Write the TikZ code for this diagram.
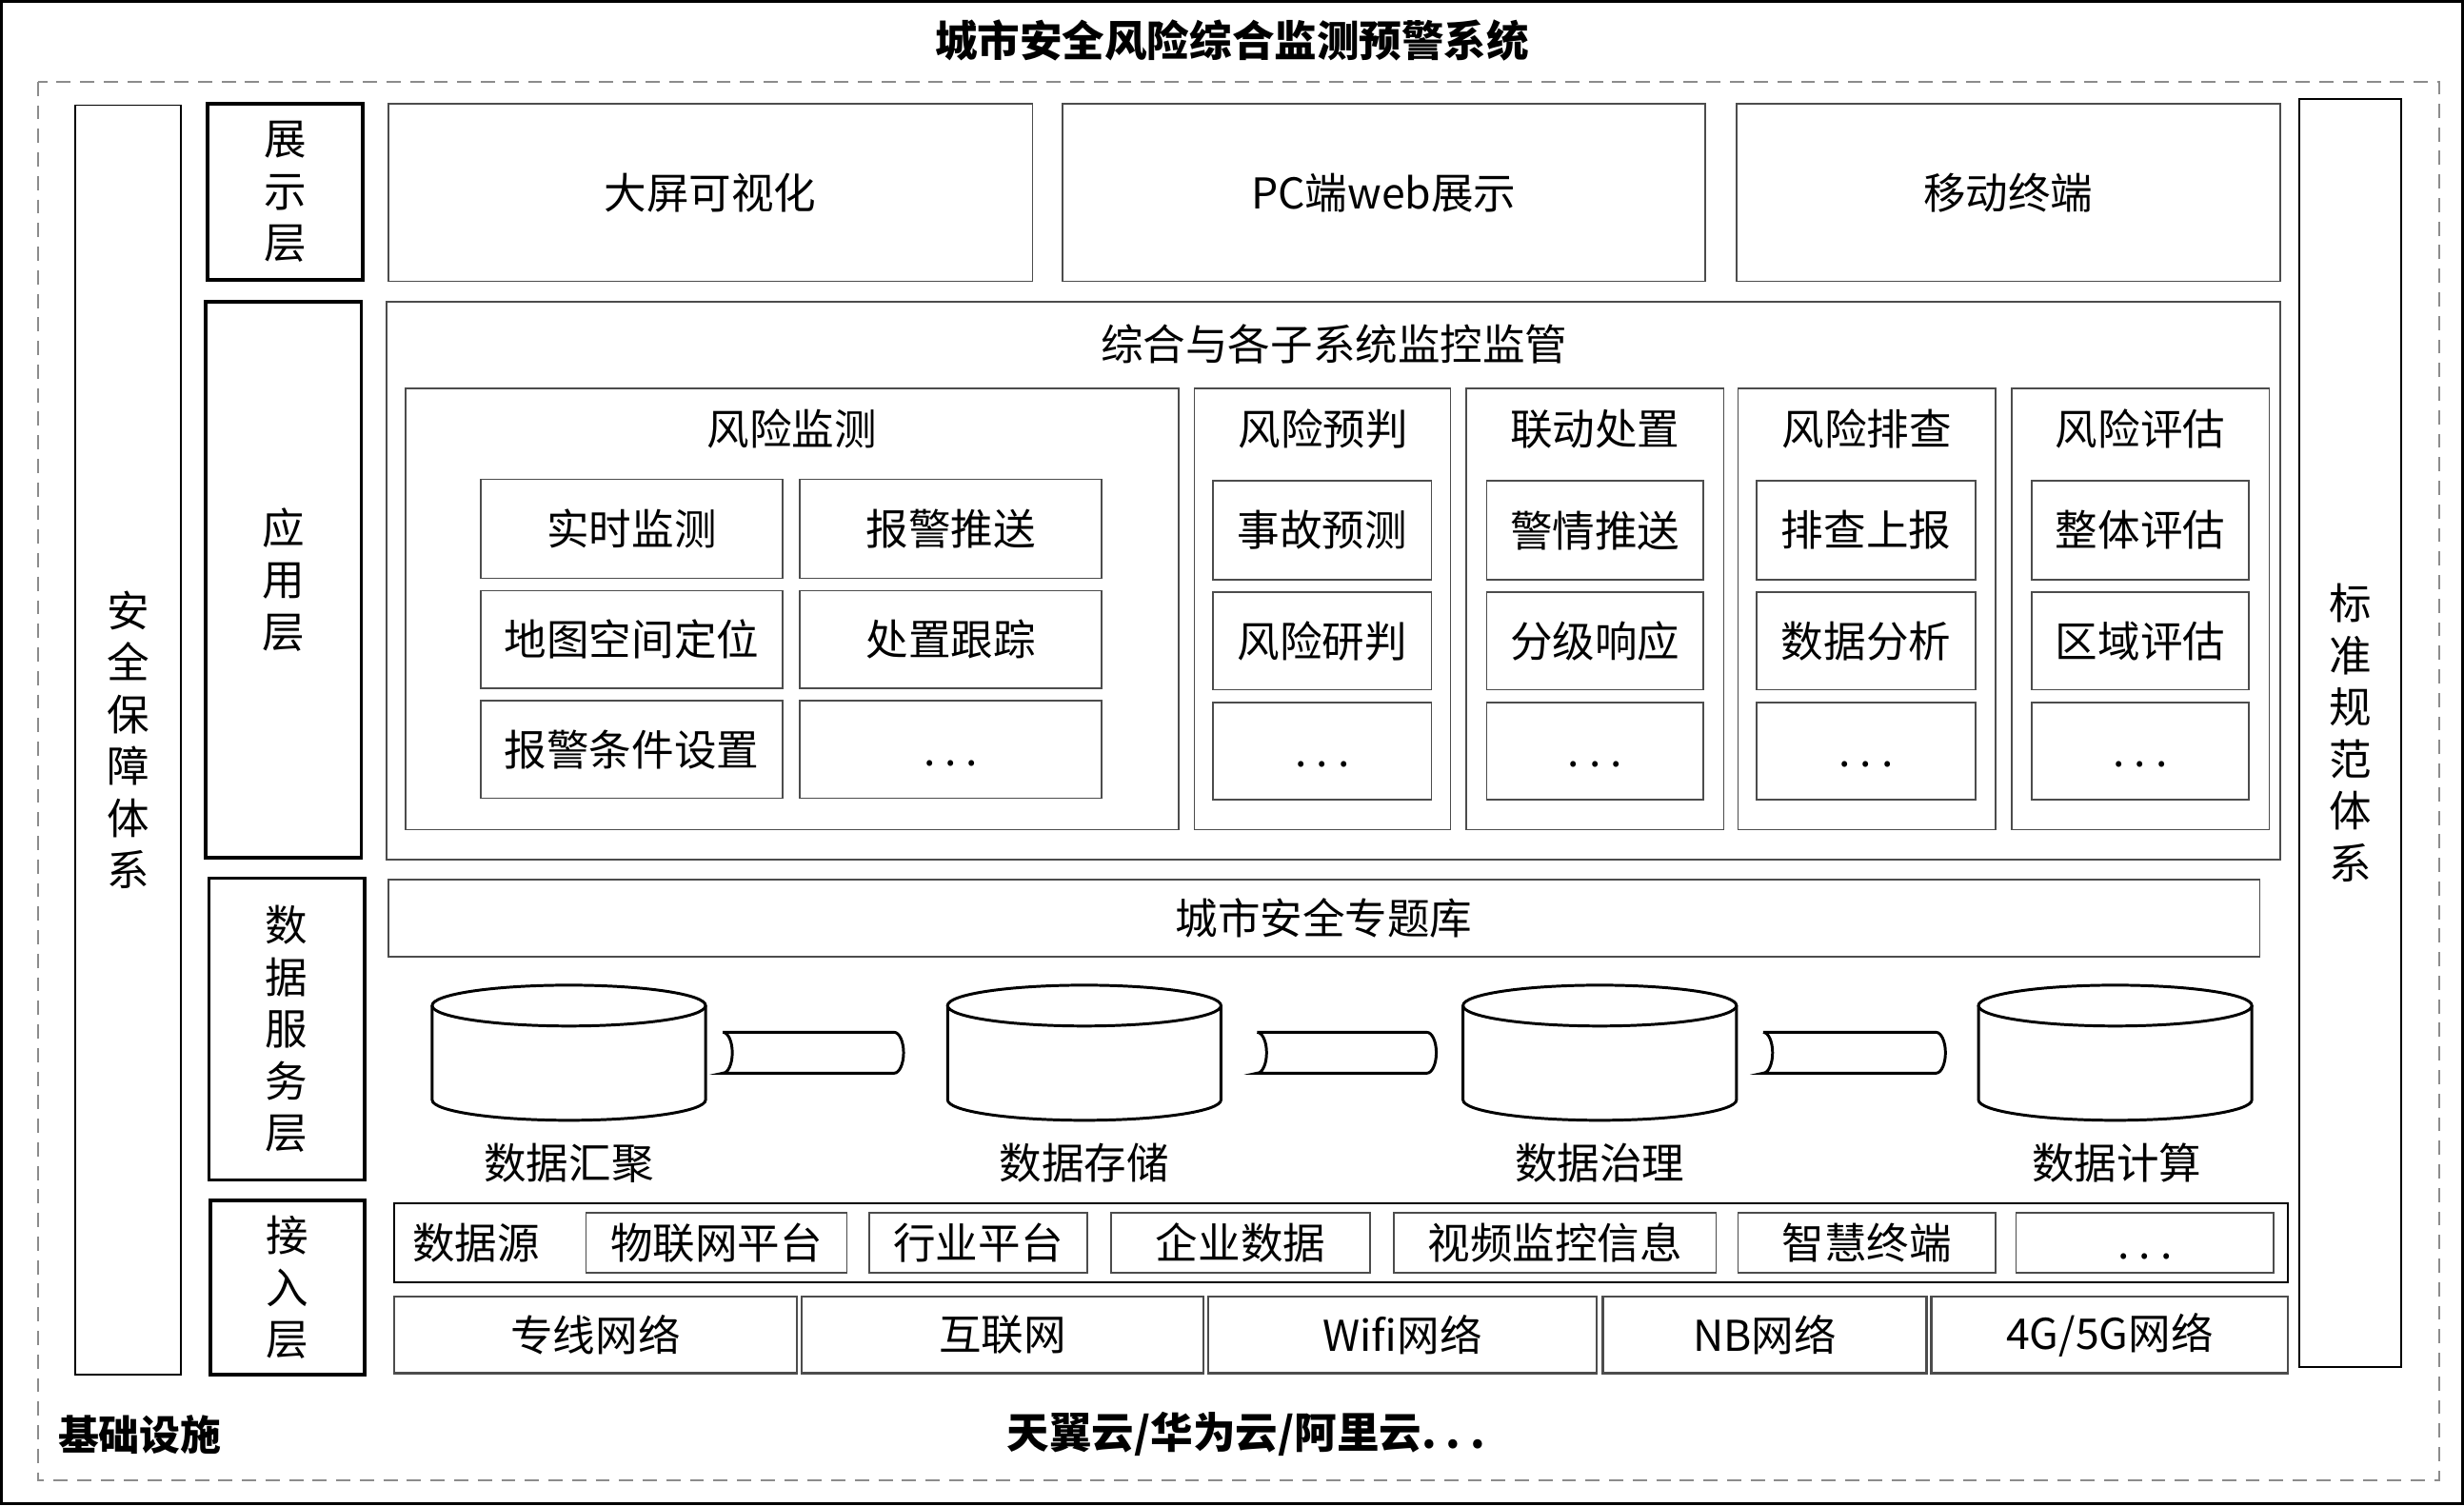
\documentclass[tikz,border=0pt]{standalone}
\usepackage{fontspec}
\setmainfont{Noto Sans CJK SC}
\usetikzlibrary{fit}

\newcommand\etcdots{.\kern6pt.\kern6pt.}
\newcommand\boxdots{\vphantom{报}\etcdots}

\tikzset{
	box/.style={draw=black!70, line width=1pt, inner sep=0pt},
	layer/.style={box, draw=black, line width=2.2pt},
	side/.style={box, draw=black},
	txt/.style={inner sep=0pt, font=\fontsize{27}{33}\selectfont},
	every label/.style={txt, align=center},
	cyl/.style={draw=black, line width=1.8pt},
}

\begin{document}
\begin{tikzpicture}[x=1pt,y=-1pt]

	\useasboundingbox (0,0) rectangle (1568,958);

	% frame
	\draw[line width=1.5pt] (1,1) rectangle (1567,957);
	\draw[black!45, line width=1.2pt, dash pattern=on 9pt off 6pt] (24,52) rectangle (1552,942);
	\node[txt, font=\bfseries\fontsize{27}{30}\selectfont] (title) at (784,26) {城市安全风险综合监测预警系统};

	% side bars
	\node[side, fit={(48,67) (115,875)}, label=center:安\\全\\保\\障\\体\\系] (safety) {};
	\node[side, fit={(1463,63) (1528,870)}, label=center:标\\准\\规\\范\\体\\系] (standard) {};

	% layers
	\node[layer, fit={(132,66) (231,178)}, label=center:展\\示\\层] (lshow) {};
	\node[layer, fit={(131,192) (230,546)}, label=center:应\\用\\层] (lapp) {};
	\node[layer, fit={(133,559) (232,751)}, label=center:数\\据\\服\\务\\层] (ldata) {};
	\node[layer, fit={(134,764) (232,875)}, label=center:接\\入\\层] (lacc) {};

	% presentation
	\node[box, fit={(247,66) (657,179)}, label=center:大屏可视化] (bigscreen) {};
	\node[box, fit={(676,66) (1085,179)}, label=center:PC端web展示] (pcweb) {};
	\node[box, fit={(1105,66) (1451,179)}, label=center:移动终端] (mobile) {};

	% application
	\node[box, fit={(246,192) (1451,547)}] (app) {};
	\node[txt] (apptitle) at (849,219) {综合与各子系统监控监管};

	\node[box, fit={(258,247) (750,528)}] (monitor) {};
	\node[txt] (monitort) at (504,273) {风险监测};
	\node[box, fit={(306,305) (498,368)}, label=center:实时监测] (mon1) {};
	\node[box, fit={(509,305) (701,368)}, label=center:报警推送] (mon2) {};
	\node[box, fit={(306,376) (498,438)}, label=center:地图空间定位] (mon3) {};
	\node[box, fit={(509,376) (701,438)}, label=center:处置跟踪] (mon4) {};
	\node[box, fit={(306,446) (498,508)}, label=center:报警条件设置] (mon5) {};
	\node[box, fit={(509,446) (701,508)}, label=center:\boxdots] (mon6) {};

	\node[box, fit={(760,247) (923,528)}] (predict) {};
	\node[txt] (predictt) at (842,273) {风险预判};
	\node[box, fit={(772,306) (911,369)}, label=center:事故预测] (pre1) {};
	\node[box, fit={(772,377) (911,439)}, label=center:风险研判] (pre2) {};
	\node[box, fit={(772,447) (911,509)}, label=center:\boxdots] (pre3) {};

	\node[box, fit={(933,247) (1097,528)}] (dispose) {};
	\node[txt] (disposet) at (1015,273) {联动处置};
	\node[box, fit={(946,306) (1084,369)}, label=center:警情推送] (dis1) {};
	\node[box, fit={(946,377) (1084,439)}, label=center:分级响应] (dis2) {};
	\node[box, fit={(946,447) (1084,509)}, label=center:\boxdots] (dis3) {};

	\node[box, fit={(1106,247) (1270,528)}] (inspect) {};
	\node[txt] (inspectt) at (1188,273) {风险排查};
	\node[box, fit={(1118,306) (1257,369)}, label=center:排查上报] (ins1) {};
	\node[box, fit={(1118,377) (1257,439)}, label=center:数据分析] (ins2) {};
	\node[box, fit={(1118,447) (1257,509)}, label=center:\boxdots] (ins3) {};

	\node[box, fit={(1280,247) (1444,528)}] (assess) {};
	\node[txt] (assesst) at (1362,273) {风险评估};
	\node[box, fit={(1293,306) (1431,369)}, label=center:整体评估] (ass1) {};
	\node[box, fit={(1293,377) (1431,439)}, label=center:区域评估] (ass2) {};
	\node[box, fit={(1293,447) (1431,509)}, label=center:\boxdots] (ass3) {};

	% data services
	\node[box, fit={(247,560) (1438,609)}, label=center:城市安全专题库] (topic) {};

	\foreach \cx in {362,690,1018,1346} {
		\draw[cyl] (\cx-87,640) -- (\cx-87,700) arc[start angle=180, end angle=0, x radius=87, y radius=13] -- (\cx+87,640);
		\draw[cyl] (\cx,640) ellipse[x radius=87, y radius=13];
	}
	\foreach \xa/\xb in {460/569,800/908,1122/1232} {
		\draw[cyl] (\xa,657) -- (\xb,657) arc[start angle=-90, end angle=90, x radius=6, y radius=13]
			-- (\xa,683) arc[start angle=90, end angle=-90, x radius=6, y radius=13];
	}
	\node[txt] (gather) at (362,740) {数据汇聚};
	\node[txt] (store) at (690,740) {数据存储};
	\node[txt] (govern) at (1018,740) {数据治理};
	\node[txt] (compute) at (1347,740) {数据计算};

	% access
	\node[box, draw=black, fit={(251,766) (1456,816)}] (src) {};
	\node[txt] (srct) at (303,791) {数据源};
	\node[box, fit={(373,772) (539,810)}, label=center:物联网平台] (iot) {};
	\node[box, fit={(553,772) (692,810)}, label=center:行业平台] (industry) {};
	\node[box, fit={(707,772) (872,810)}, label=center:企业数据] (enterprise) {};
	\node[box, fit={(887,772) (1092,810)}, label=center:视频监控信息] (video) {};
	\node[box, fit={(1106,772) (1270,810)}, label=center:智慧终端] (smart) {};
	\node[box, fit={(1283,772) (1447,810)}, label=center:\boxdots] (moresrc) {};

	\node[box, line width=1.4pt, fit={(251,825) (507,874)}, label=center:专线网络] (leased) {};
	\node[box, line width=1.4pt, fit={(510,825) (766,874)}, label=center:互联网] (internet) {};
	\node[box, line width=1.4pt, fit={(769,825) (1016,874)}, label=center:Wifi网络] (wifi) {};
	\node[box, line width=1.4pt, fit={(1020,825) (1226,874)}, label=center:NB网络] (nb) {};
	\node[box, line width=1.4pt, fit={(1229,825) (1456,874)}, label=center:4G/5G网络] (mobilenet) {};

	% infrastructure
	\node[txt, font=\bfseries\fontsize{26}{30}\selectfont] (infra) at (89,913) {基础设施};
	\node[txt, font=\bfseries\fontsize{27}{30}\selectfont] (cloud) at (793,913) {天翼云/华为云/阿里云\etcdots};

\end{tikzpicture}
\end{document}
